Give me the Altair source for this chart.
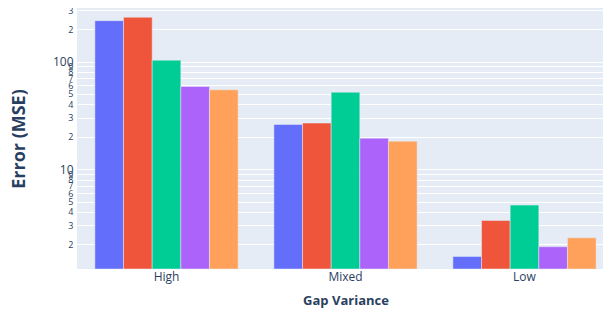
import altair as alt
import pandas as pd

categories = ["High", "Mixed", "Low"]
series = ["Model 1", "Model 2", "Model 3", "Model 4", "Model 5"]
colors = ["#636EFA", "#EF553B", "#00CC96", "#AB63FA", "#FFA15A"]
values = {
    "Model 1": [240, 26.0, 1.54],
    "Model 2": [258, 26.8, 3.33],
    "Model 3": [103, 51.9, 4.63],
    "Model 4": [58.6, 19.4, 1.90],
    "Model 5": [54.6, 18.2, 2.30],
}
y_ticks = [2, 3, 4, 5, 6, 7, 8, 9, 10, 20, 30, 40, 50, 60, 70, 80, 90, 100, 200, 300]
y_min, y_max = 1.18, 314.6

rows = []
for s in series:
    for c, v in zip(categories, values[s]):
        rows.append({"gap": c, "series": s, "mse": v})
df = pd.DataFrame(rows)

font = "Open Sans"
fc = "#2a3f5f"

chart = alt.Chart(df).mark_bar(stroke="#E5ECF6", strokeWidth=0.5).encode(
    x=alt.X("gap:N", sort=categories,
            scale=alt.Scale(paddingInner=0.2, paddingOuter=0.1, range=[0, 537]),
            axis=alt.Axis(title="Gap Variance", labelAngle=0, domain=False, ticks=False,
                          labelPadding=2, labelFontSize=12, labelColor=fc, labelFont=font,
                          titleFont=font, titleFontSize=13, titleFontWeight="bold",
                          titleColor=fc, titlePadding=12, grid=False)),
    xOffset=alt.XOffset("series:N", sort=series,
                        scale=alt.Scale(paddingInner=0, paddingOuter=0)),
    y=alt.Y("mse:Q",
            scale=alt.Scale(type="log", domain=[y_min, y_max], nice=False),
            axis=alt.Axis(title="Error (MSE)", values=y_ticks, domain=False, ticks=False,
                          labelOverlap=False, labelBound=False, labelPadding=4,
                          labelExpr="datum.value == 10 || datum.value == 100 ? toString(datum.value) : substring(toString(datum.value), 0, 1)",
                          labelFontSize={"condition": {"test": "datum.value == 10 || datum.value == 100", "value": 12}, "value": 9},
                          labelColor=fc, labelFont=font,
                          titleFont=font, titleFontSize=18, titleFontWeight="bold",
                          titleColor=fc, titlePadding=24,
                          gridColor="white", gridWidth=1, gridOpacity=1)),
    y2=alt.datum(y_min),
    color=alt.Color("series:N", sort=series,
                    scale=alt.Scale(domain=series, range=colors), legend=None),
).properties(
    width=526, height=261,
    autosize=alt.AutoSizeParams(type="none"),
    padding={"left": 69, "top": 0, "right": 0, "bottom": 42},
).configure(
    background="white",
    view=alt.ViewConfig(fill="#E5ECF6", stroke=None),
)

chart.save("out.html", embed_options={"renderer": "svg", "actions": False})
